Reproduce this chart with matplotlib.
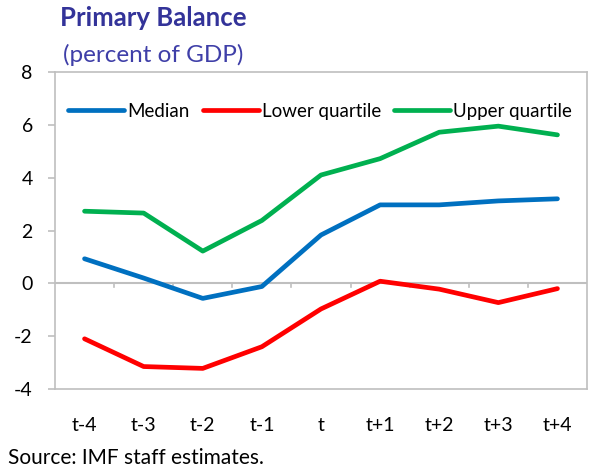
import numpy as np
import matplotlib.pyplot as plt
import matplotlib.transforms as mtransforms

periods = ['t-4', 't-3', 't-2', 't-1', 't', 't+1', 't+2', 't+3', 't+4']
median = [0.93, 0.2, -0.57, -0.12, 1.83, 2.97, 2.97, 3.12, 3.2]
lower_quartile = [-2.1, -3.15, -3.22, -2.4, -0.97, 0.08, -0.22, -0.73, -0.2]
upper_quartile = [2.73, 2.66, 1.22, 2.38, 4.1, 4.72, 5.72, 5.95, 5.62]
y_ticks = [-4, -2, 0, 2, 4, 6, 8]

plt.rcParams['font.family'] = ['Lato', 'DejaVu Sans']
plt.rcParams['axes.unicode_minus'] = False
GRAY = '#BFBFBF'

fig = plt.figure(figsize=(5.94, 4.70), dpi=100)
ax = fig.add_axes([55 / 594, 1 - 389 / 470, 532 / 594, 317 / 470])

x = np.arange(len(periods))
ax.plot(x, median, color='#0070C0', lw=3.4, label='Median', solid_capstyle='round')
ax.plot(x, lower_quartile, color='#FF0000', lw=3.4, label='Lower quartile', solid_capstyle='round')
ax.plot(x, upper_quartile, color='#00B050', lw=3.4, label='Upper quartile', solid_capstyle='round')

ax.set_xlim(-0.5, len(periods) - 0.5)
ax.set_ylim(-4, 8)
ax.set_yticks(y_ticks)
ax.set_xticks(x)
ax.set_xticklabels(periods)
ax.tick_params(axis='y', direction='out', length=5, width=1.2, color=GRAY, labelsize=14, pad=11)
ax.tick_params(axis='x', length=0, labelsize=14, pad=20)

for s in ax.spines.values():
    s.set_color(GRAY)
    s.set_linewidth(1.2)

# zero axis with category separators
ax.axhline(0, color=GRAY, lw=1.5, zorder=1)
trans = mtransforms.blended_transform_factory(ax.transData, ax.transAxes)
for b in np.arange(0.5, len(periods) - 1, 1.0):
    ax.plot([b, b], [1 / 3 - 0.013, 1 / 3], color=GRAY, lw=1.2, transform=trans, zorder=1)

ax.legend(loc='upper left', bbox_to_anchor=(0.0, 0.945), ncol=3, frameon=False,
          fontsize=13.5, handlelength=3.0, handletextpad=0.15, columnspacing=0.7,
          borderaxespad=0.3)

fig.text(60 / 594, 1 - 18 / 470, 'Primary Balance', fontsize=18.5, fontweight='bold',
         color='#333399', va='center', ha='left')
fig.text(63 / 594, 1 - 55 / 470, '(percent of GDP)', fontsize=17.5,
         color='#3F3FA8', va='center', ha='left')
fig.text(8 / 594, 1 - 458 / 470, 'Source: IMF staff estimates.', fontsize=15,
         va='center', ha='left')

fig.savefig('out.png', dpi=100)
